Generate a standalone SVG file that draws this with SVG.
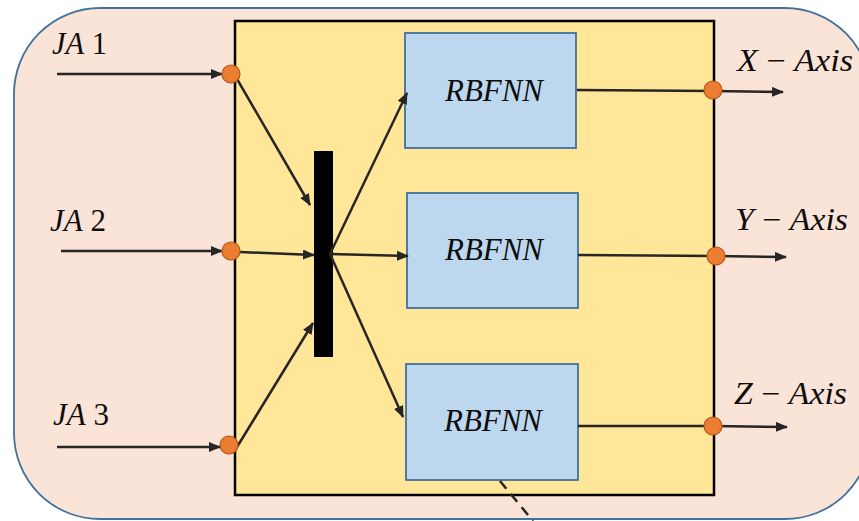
<svg xmlns="http://www.w3.org/2000/svg" width="859" height="521" viewBox="0 0 859 521">
<style>
.lbl{font-family:'Liberation Serif','Times New Roman',serif;font-size:31px;fill:#0d0d0d}
.it{font-style:italic}
.box{fill:#BDD7EE;stroke:#41719C;stroke-width:1.8}
.con{stroke:#262626;stroke-width:2.5;fill:none}
.arr{marker-end:url(#ah)}
.dot{fill:#ED7D31;stroke:#B4561B;stroke-width:1.2}
</style>
<defs>
<marker id="ah" markerUnits="userSpaceOnUse" markerWidth="12" markerHeight="10" refX="11" refY="5" orient="auto">
<path d="M0,0 L12,5 L0,10 z" fill="#262626"/>
</marker>
</defs>
<g id="outer">
<rect x="14" y="8" width="857" height="511" rx="86" ry="86" fill="#FAE3D7" stroke="#41719C" stroke-width="1.8"/>
</g>
<g id="container">
<rect x="235" y="21" width="479" height="474" fill="#FFE699" stroke="#000" stroke-width="2.5"/>
</g>
<g id="rbfnn1">
<rect class="box" x="405" y="33" width="171" height="115"/>
<text class="lbl it" x="445" y="101" textLength="98" lengthAdjust="spacingAndGlyphs">RBFNN</text>
</g>
<g id="rbfnn2">
<rect class="box" x="407" y="193" width="171" height="115"/>
<text class="lbl it" x="445" y="260" textLength="98" lengthAdjust="spacingAndGlyphs">RBFNN</text>
</g>
<g id="rbfnn3">
<rect class="box" x="406" y="364" width="172" height="116"/>
<text class="lbl it" x="444" y="431" textLength="98" lengthAdjust="spacingAndGlyphs">RBFNN</text>
</g>
<g id="mux">
<rect x="314" y="151" width="19" height="206" fill="#000"/>
</g>
<g id="connectors">
<line class="con arr" x1="57" y1="74" x2="222" y2="74"/>
<line class="con arr" x1="61" y1="251" x2="222" y2="251"/>
<line class="con arr" x1="57" y1="447" x2="220" y2="447"/>
<line class="con arr" x1="237" y1="79" x2="310" y2="205"/>
<line class="con arr" x1="240" y1="252" x2="314" y2="255"/>
<line class="con arr" x1="237" y1="447" x2="313" y2="323"/>
<line class="con arr" x1="330" y1="254" x2="407" y2="93"/>
<line class="con arr" x1="330" y1="254" x2="408" y2="256"/>
<line class="con arr" x1="330" y1="254" x2="403" y2="417"/>
<line class="con" x1="577" y1="90" x2="713" y2="91"/>
<line class="con" x1="578" y1="255" x2="716" y2="256"/>
<line class="con" x1="578" y1="426" x2="713" y2="426"/>
<line class="con arr" x1="713" y1="91" x2="783" y2="92"/>
<line class="con arr" x1="716" y1="256" x2="786" y2="257"/>
<line class="con arr" x1="713" y1="426" x2="787" y2="427"/>
<line class="con" x1="500" y1="481" x2="533" y2="521" stroke-dasharray="10,7"/>
</g>
<g id="in1"><circle class="dot" cx="231" cy="74" r="9"/><text class="lbl" x="52" y="54" textLength="55" lengthAdjust="spacingAndGlyphs"><tspan class="it">JA</tspan> 1</text></g>
<g id="in2"><circle class="dot" cx="231" cy="251" r="9"/><text class="lbl" x="50" y="231" textLength="56" lengthAdjust="spacingAndGlyphs"><tspan class="it">JA</tspan> 2</text></g>
<g id="in3"><circle class="dot" cx="229" cy="445" r="9"/><text class="lbl" x="53" y="425" textLength="56" lengthAdjust="spacingAndGlyphs"><tspan class="it">JA</tspan> 3</text></g>
<g id="outX"><circle class="dot" cx="713" cy="90" r="9"/><text class="lbl" x="737" y="71" textLength="116" lengthAdjust="spacingAndGlyphs"><tspan class="it">X</tspan> − <tspan class="it">Axis</tspan></text></g>
<g id="outY"><circle class="dot" cx="716" cy="256" r="9"/><text class="lbl" x="735" y="230" textLength="113" lengthAdjust="spacingAndGlyphs"><tspan class="it">Y</tspan> − <tspan class="it">Axis</tspan></text></g>
<g id="outZ"><circle class="dot" cx="713" cy="426" r="9"/><text class="lbl" x="734" y="404" textLength="113" lengthAdjust="spacingAndGlyphs"><tspan class="it">Z</tspan> − <tspan class="it">Axis</tspan></text></g>
</svg>
